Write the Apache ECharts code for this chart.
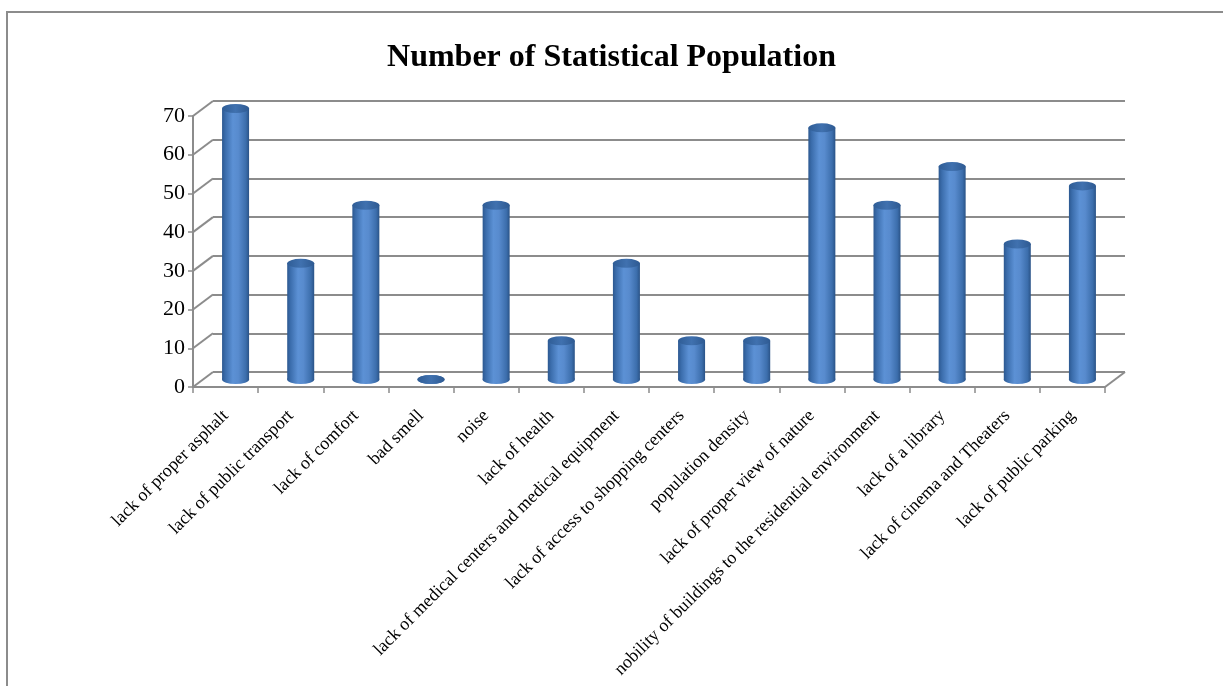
<!DOCTYPE html>
<html>
<head>
<meta charset="utf-8">
<script src="https://cdn.jsdelivr.net/npm/echarts@6/dist/echarts.min.js"></script>
<style>
  html, body { margin: 0; padding: 0; background: #fff; }
  #chart { width: 1223px; height: 686px; }
</style>
</head>
<body>
<div id="chart"></div>
<script>
const categories = [
  'lack of proper asphalt',
  'lack of public transport',
  'lack of comfort',
  'bad smell',
  'noise',
  'lack of health',
  'lack of medical centers and medical equipment',
  'lack of access to shopping centers',
  'population density',
  'lack of proper view of nature',
  'nobility of buildings to the residential environment',
  'lack of a library',
  'lack of cinema and Theaters',
  'lack of public parking'
]
const values = [70, 30, 45, 0, 45, 10, 30, 10, 10, 65, 45, 55, 35, 50]
const yTicks = [0, 10, 20, 30, 40, 50, 60, 70]

// 3d depth offset of the back wall
const DX = 20
const DY = 15
const W = 1223
const front = { left: 193, right: 118, top: 116, bottom: 299 }
const shift = (g, k) => ({
  left: g.left + DX * k,
  right: g.right - DX * k,
  top: g.top - DY * k,
  bottom: g.bottom + DY * k
})

const font = 'Liberation Serif'
const gray = '#8c8c8c'

const cylFill = new echarts.graphic.LinearGradient(0, 0, 1, 0, [
  { offset: 0, color: '#2c5890' },
  { offset: 0.12, color: '#3b6dac' },
  { offset: 0.4, color: '#5c91d5' },
  { offset: 0.6, color: '#588bce' },
  { offset: 0.88, color: '#3c6eac' },
  { offset: 1, color: '#2a5387' }
])
const capFill = new echarts.graphic.LinearGradient(0, 0, 1, 0, [
  { offset: 0, color: '#2f5d96' },
  { offset: 0.5, color: '#4071af' },
  { offset: 1, color: '#2e5a92' }
])

const yAxisBase = { type: 'value', min: 0, max: 70, interval: 10 }

const chart = echarts.init(document.getElementById('chart'))

const option = {
  animation: false,
  title: {
    text: 'Number of Statistical Population',
    left: 'center',
    top: 37,
    textStyle: { fontFamily: font, fontSize: 32, fontWeight: 'bold', color: '#000' }
  },
  grid: [
    Object.assign({}, shift(front, 1)),
    Object.assign({}, front),
    Object.assign({}, shift(front, 0.5))
  ],
  xAxis: [
    { type: 'category', gridIndex: 0, data: categories, show: false },
    {
      type: 'category',
      gridIndex: 1,
      data: categories,
      axisLine: { lineStyle: { color: gray, width: 2 } },
      axisTick: { show: true, length: 6, lineStyle: { color: gray, width: 1.5 } },
      axisLabel: {
        interval: 0,
        rotate: 45,
        margin: 26,
        fontFamily: font,
        fontSize: 18,
        color: '#000'
      }
    },
    { type: 'category', gridIndex: 2, data: categories, show: false }
  ],
  yAxis: [
    Object.assign({}, yAxisBase, {
      gridIndex: 0,
      axisLine: { show: false },
      axisTick: { show: false },
      axisLabel: { show: false },
      splitLine: { lineStyle: { color: gray, width: 2 } }
    }),
    Object.assign({}, yAxisBase, {
      gridIndex: 1,
      axisLine: { show: true, lineStyle: { color: gray, width: 2 } },
      axisTick: { show: true, length: 5, lineStyle: { color: gray, width: 1.5 } },
      axisLabel: { margin: 8, fontFamily: font, fontSize: 22, color: '#000' },
      splitLine: { show: false }
    }),
    Object.assign({}, yAxisBase, { gridIndex: 2, show: false, splitLine: { show: false } })
  ],
  series: [
    {
      type: 'pictorialBar',
      xAxisIndex: 2,
      yAxisIndex: 2,
      symbol: 'circle',
      symbolSize: [27, 9],
      symbolOffset: [0, '50%'],
      barWidth: 27,
      barGap: '-100%',
      itemStyle: { color: cylFill },
      z: 3,
      data: values
    },
    {
      type: 'bar',
      xAxisIndex: 2,
      yAxisIndex: 2,
      barWidth: 27,
      itemStyle: { color: cylFill },
      z: 4,
      data: values
    },
    {
      type: 'pictorialBar',
      xAxisIndex: 2,
      yAxisIndex: 2,
      symbol: 'circle',
      symbolSize: [27, 9],
      symbolPosition: 'end',
      symbolOffset: [0, '-50%'],
      barWidth: 27,
      barGap: '-100%',
      itemStyle: { color: capFill },
      z: 5,
      data: values
    }
  ]
}

chart.setOption(option)

// left wall and floor diagonals, from front axis to back wall
const back = shift(front, 1)
const seg = (x1, y1, x2, y2) => ({
  type: 'line',
  shape: { x1: x1, y1: y1, x2: x2, y2: y2 },
  style: { stroke: gray, lineWidth: 2 },
  z: 1
})
const lines = yTicks.map((v) =>
  seg(
    front.left, chart.convertToPixel({ yAxisIndex: 1 }, v),
    back.left, chart.convertToPixel({ yAxisIndex: 0 }, v)
  )
)
lines.push(seg(
  W - front.right, chart.convertToPixel({ yAxisIndex: 1 }, 0),
  W - back.right, chart.convertToPixel({ yAxisIndex: 0 }, 0)
))
// picture border (cropped at right and bottom)
lines.push({
  type: 'rect',
  shape: { x: 7, y: 12, width: 1400, height: 900 },
  style: { fill: null, stroke: gray, lineWidth: 2 },
  z: 1
})
chart.setOption({ graphic: lines })
</script>
</body>
</html>
